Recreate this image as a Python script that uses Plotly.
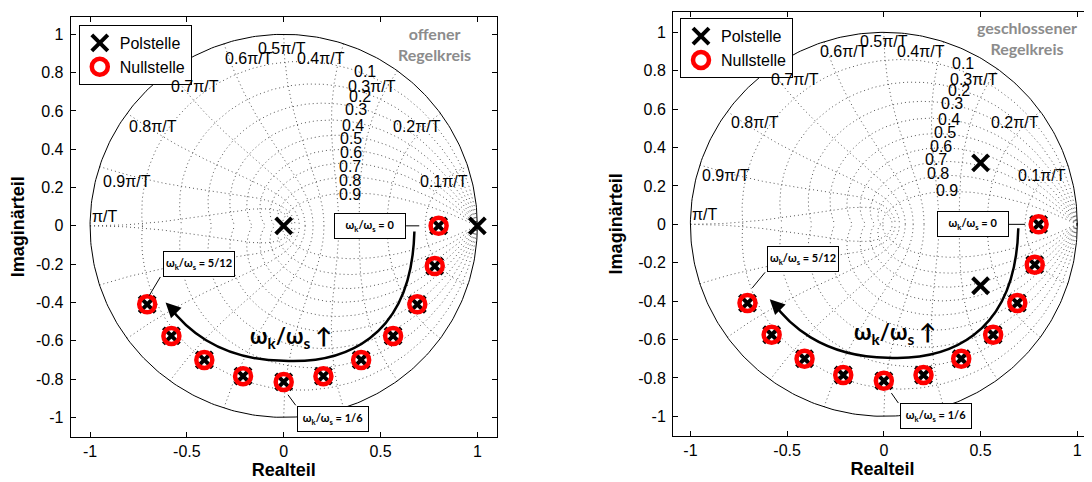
import numpy as np
import plotly.graph_objects as go

# ---------------- data ----------------
pair_re = [0.80, 0.78, 0.69, 0.565, 0.40, 0.205, 0.0, -0.21, -0.41, -0.58, -0.705]
pair_im = [0.0, -0.21, -0.41, -0.575, -0.70, -0.785, -0.815, -0.785, -0.70, -0.575, -0.41]

open_pole_re = [0.0, 1.0]
open_pole_im = [0.0, 0.0]

closed_pole_re = [0.5, 0.5]
closed_pole_im = [0.32, -0.32]

zeta_vals = [0.1, 0.2, 0.3, 0.4, 0.5, 0.6, 0.7, 0.8, 0.9]
zeta_labels = ["0.1", "0.2", "0.3", "0.4", "0.5", "0.6", "0.7", "0.8", "0.9"]
wn_vals = [0.1, 0.2, 0.3, 0.4, 0.5, 0.6, 0.7, 0.8, 0.9, 1.0]  # times pi/T
wn_labels = ["0.1π/T", "0.2π/T", "0.3π/T", "0.4π/T", "0.5π/T",
             "0.6π/T", "0.7π/T", "0.8π/T", "0.9π/T", "π/T"]

x_tickvals = [-1, -0.5, 0, 0.5, 1]
x_ticktext = ["-1", "-0.5", "0", "0.5", "1"]
y_tickvals = [-1, -0.8, -0.6, -0.4, -0.2, 0, 0.2, 0.4, 0.6, 0.8, 1]
y_ticktext = ["-1", "-0.8", "-0.6", "-0.4", "-0.2", "0", "0.2", "0.4", "0.6", "0.8", "1"]

panel_titles = ["offener<br>Regelkreis", "geschlossener<br>Regelkreis"]
box_texts = ["ω<sub>k</sub>/ω<sub>s</sub> = 0",
             "ω<sub>k</sub>/ω<sub>s</sub> = 5/12",
             "ω<sub>k</sub>/ω<sub>s</sub> = 1/6"]
arrow_text = "ω<sub>k</sub>/ω<sub>s</sub> ↑"

# ---------------- layout helpers ----------------
# the page body has an 8px margin, so the figure is 8px smaller and offset
OFF = 8
W, H = 1092 - OFF, 482 - OFF
FONT = "Liberation Sans, Arial, sans-serif"
CAL = "Lato, Open Sans, sans-serif"


def px_x(tx):
    return (tx - OFF) / W


def px_y(ty):
    return 1 - (ty - OFF) / H


# label positions (layout)
wn_label_pos_left = [(0.826, 0.234), (0.686, 0.521), (0.454, 0.730), (0.195, 0.874), (-0.011, 0.927),
                     (-0.181, 0.874), (-0.458, 0.730), (-0.673, 0.521), (-0.807, 0.234), (-0.923, 0.048)]
wn_label_pos_right = [(0.820, 0.252), (0.677, 0.533), (0.468, 0.755), (0.191, 0.900), (0.003, 0.952),
                      (-0.208, 0.900), (-0.458, 0.755), (-0.668, 0.533), (-0.814, 0.252), (-0.926, 0.050)]
zeta_label_pos_left = [(0.420, 0.805), (0.394, 0.674), (0.374, 0.610), (0.357, 0.526), (0.346, 0.457),
                       (0.346, 0.384), (0.343, 0.312), (0.343, 0.236), (0.343, 0.166)]
zeta_label_pos_right = [(0.409, 0.839), (0.388, 0.699), (0.352, 0.630), (0.336, 0.548), (0.316, 0.479),
                        (0.295, 0.406), (0.269, 0.336), (0.282, 0.263), (0.324, 0.177)]


def zgrid_xy():
    xs, ys = [], []
    for z in zeta_vals:
        s = np.sqrt(1 - z * z)
        w = np.linspace(0, np.pi / s, 160)
        zz = np.exp(w * (-z + 1j * s))
        for sg in (1, -1):
            xs += list(zz.real) + [None]
            ys += list(sg * zz.imag) + [None]
    for wn in wn_vals:
        ze = np.linspace(0, 1, 120)
        zz = np.exp(wn * np.pi * (-ze + 1j * np.sqrt(1 - ze ** 2)))
        for sg in (1, -1):
            xs += list(zz.real) + [None]
            ys += list(sg * zz.imag) + [None]
    return xs, ys


fig = go.Figure()
gx, gy = zgrid_xy()
th = np.linspace(0, 2 * np.pi, 400)

panels = [
    dict(xa="x", ya="y", legend="legend", poles_re=open_pole_re, poles_im=open_pole_im,
         wnpos=wn_label_pos_left, zpos=zeta_label_pos_left, title=panel_titles[0], title_pos=(0.781, 0.95),
         boxes=[((0.445, 0.0), ((0.632, 0.0), (0.70, 0.0))),
                ((-0.436, -0.20), ((-0.637, -0.267), (-0.695, -0.365))),
                ((0.255, -1.009), ((0.062, -0.937), (0.022, -0.882)))],
         shift=(0.0, 0.0), arrow_text_pos=(0.037, -0.58)),
    dict(xa="x2", ya="y2", legend="legend2", poles_re=closed_pole_re, poles_im=closed_pole_im,
         wnpos=wn_label_pos_right, zpos=zeta_label_pos_right, title=panel_titles[1], title_pos=(0.74, 0.97),
         boxes=[((0.46, 0.0), ((0.647, 0.0), (0.73, 0.0))),
                ((-0.417, -0.182), ((-0.614, -0.25), (-0.68, -0.331))),
                ((0.27, -1.0), ((0.075, -0.931), (0.039, -0.879)))],
         shift=(0.02, 0.01), arrow_text_pos=(0.058, -0.567)),
]

annotations = []
shapes = []

for p in panels:
    xa, ya = p["xa"], p["ya"]
    # z-plane grid
    fig.add_trace(go.Scatter(x=gx, y=gy, mode="lines", xaxis=xa, yaxis=ya,
                             line=dict(color="#555555", width=1, dash="1px,3px"),
                             hoverinfo="skip", showlegend=False))
    # unit circle
    fig.add_trace(go.Scatter(x=np.cos(th), y=np.sin(th), mode="lines", xaxis=xa, yaxis=ya,
                             line=dict(color="black", width=1), hoverinfo="skip", showlegend=False))
    # poles
    fig.add_trace(go.Scatter(x=p["poles_re"] + pair_re, y=p["poles_im"] + pair_im, mode="markers",
                             xaxis=xa, yaxis=ya, name="Polstelle", legend=p["legend"],
                             marker=dict(symbol="x-thin", size=16, line=dict(color="black", width=4))))
    # zeros
    fig.add_trace(go.Scatter(x=pair_re, y=pair_im, mode="markers", xaxis=xa, yaxis=ya,
                             name="Nullstelle", legend=p["legend"],
                             marker=dict(symbol="circle-open", size=16, color="red",
                                         line=dict(color="red", width=4.5))))

    # grid labels
    for t, (lx, ly) in zip(wn_labels, p["wnpos"]):
        annotations.append(dict(x=lx, y=ly, xref=xa, yref=ya, text=t, showarrow=False,
                                font=dict(family=FONT, size=16, color="black")))
    for t, (lx, ly) in zip(zeta_labels, p["zpos"]):
        annotations.append(dict(x=lx, y=ly, xref=xa, yref=ya, text=t, showarrow=False,
                                font=dict(family=FONT, size=16, color="black")))

    # panel title (gray)
    annotations.append(dict(x=p["title_pos"][0], y=p["title_pos"][1], xref=xa, yref=ya,
                            text="<b>" + p["title"] + "</b>", showarrow=False,
                            font=dict(family=CAL, size=16, color="#8c8c8c")))

    # label boxes + pointer lines
    for txt, ((bx, by), ((l0x, l0y), (l1x, l1y))) in zip(box_texts, p["boxes"]):
        shapes.append(dict(type="line", xref=xa, yref=ya, x0=l0x, y0=l0y, x1=l1x, y1=l1y,
                           line=dict(color="black", width=1)))
        annotations.append(dict(x=bx, y=by, xref=xa, yref=ya, text="<b>" + txt + "</b>",
                                showarrow=False, bgcolor="white", bordercolor="black",
                                borderwidth=1, borderpad=0, width=70, height=24,
                                font=dict(family=CAL, size=11, color="black")))

    # curved arrow
    dx, dy = p["shift"]
    P = lambda x, y: f"{x + dx:.4f},{y + dy:.4f}"
    path = ("M " + P(0.675, -0.03) + " C " + P(0.66, -0.6) + " " + P(0.30, -0.72) + " " + P(0.0, -0.705)
            + " C " + P(-0.35, -0.70) + " " + P(-0.52, -0.52) + " " + P(-0.595, -0.415))
    shapes.append(dict(type="path", xref=xa, yref=ya, path=path,
                       line=dict(color="black", width=2.5)))
    annotations.append(dict(x=-0.61 + dx, y=-0.40 + dy, ax=-0.575 + dx, ay=-0.435 + dy,
                            xref=xa, yref=ya, axref=xa, ayref=ya, text="", showarrow=True,
                            arrowhead=2, arrowsize=1.2, arrowwidth=2.5, arrowcolor="black"))
    annotations.append(dict(x=p["arrow_text_pos"][0], y=p["arrow_text_pos"][1], xref=xa, yref=ya,
                            text="<b>" + arrow_text + "</b>", showarrow=False,
                            font=dict(family=CAL, size=22, color="black")))


def xaxis(domain, rng, mirror):
    return dict(domain=domain, range=rng, showline=True, linecolor="black", linewidth=1,
                mirror=mirror, ticks="inside", ticklen=5, tickcolor="black", tickwidth=1,
                tickvals=x_tickvals, ticktext=x_ticktext, showgrid=False, zeroline=False,
                tickfont=dict(family=FONT, size=16, color="black"), ticklabelstandoff=0,
                title=dict(text="<b>Realteil</b>", font=dict(family=FONT, size=18, color="black"),
                           standoff=2))


def yaxis(domain, rng, mirror, anchor):
    return dict(domain=domain, range=rng, anchor=anchor, showline=True, linecolor="black",
                linewidth=1, mirror=mirror, ticks="inside", ticklen=5, tickcolor="black",
                tickwidth=1, tickvals=y_tickvals, ticktext=y_ticktext, showgrid=False,
                zeroline=False, tickfont=dict(family=FONT, size=16, color="black"),
                ticklabelstandoff=3,
                title=dict(text="<b>Imaginärteil</b>", font=dict(family=FONT, size=18, color="black"),
                           standoff=10))


legend_common = dict(xanchor="left", yanchor="top", bgcolor="white", bordercolor="black",
                     borderwidth=1, font=dict(family=FONT, size=16, color="black"),
                     tracegroupgap=0)

fig.update_layout(
    width=W, height=H, margin=dict(l=0, r=0, t=0, b=0),
    paper_bgcolor="white", plot_bgcolor="white",
    xaxis=xaxis([px_x(70.7), px_x(496.7)], [-1.1, 1.1], "allticks") | dict(anchor="y"),
    yaxis=yaxis([px_y(436.7), px_y(16.7)], [-1.101, 1.092], "allticks", "x"),
    xaxis2=xaxis([px_x(673), 1.0], [-1.09, 1.076], "allticks") | dict(anchor="y2"),
    yaxis2=yaxis([px_y(435.7), px_y(12)], [-1.101, 1.106], False, "x2"),
    legend=dict(x=px_x(78.8), y=px_y(25), **legend_common),
    legend2=dict(x=px_x(680), y=px_y(18.3), **legend_common),
    annotations=annotations, shapes=shapes, showlegend=True,
)

fig.write_html("out.html")
